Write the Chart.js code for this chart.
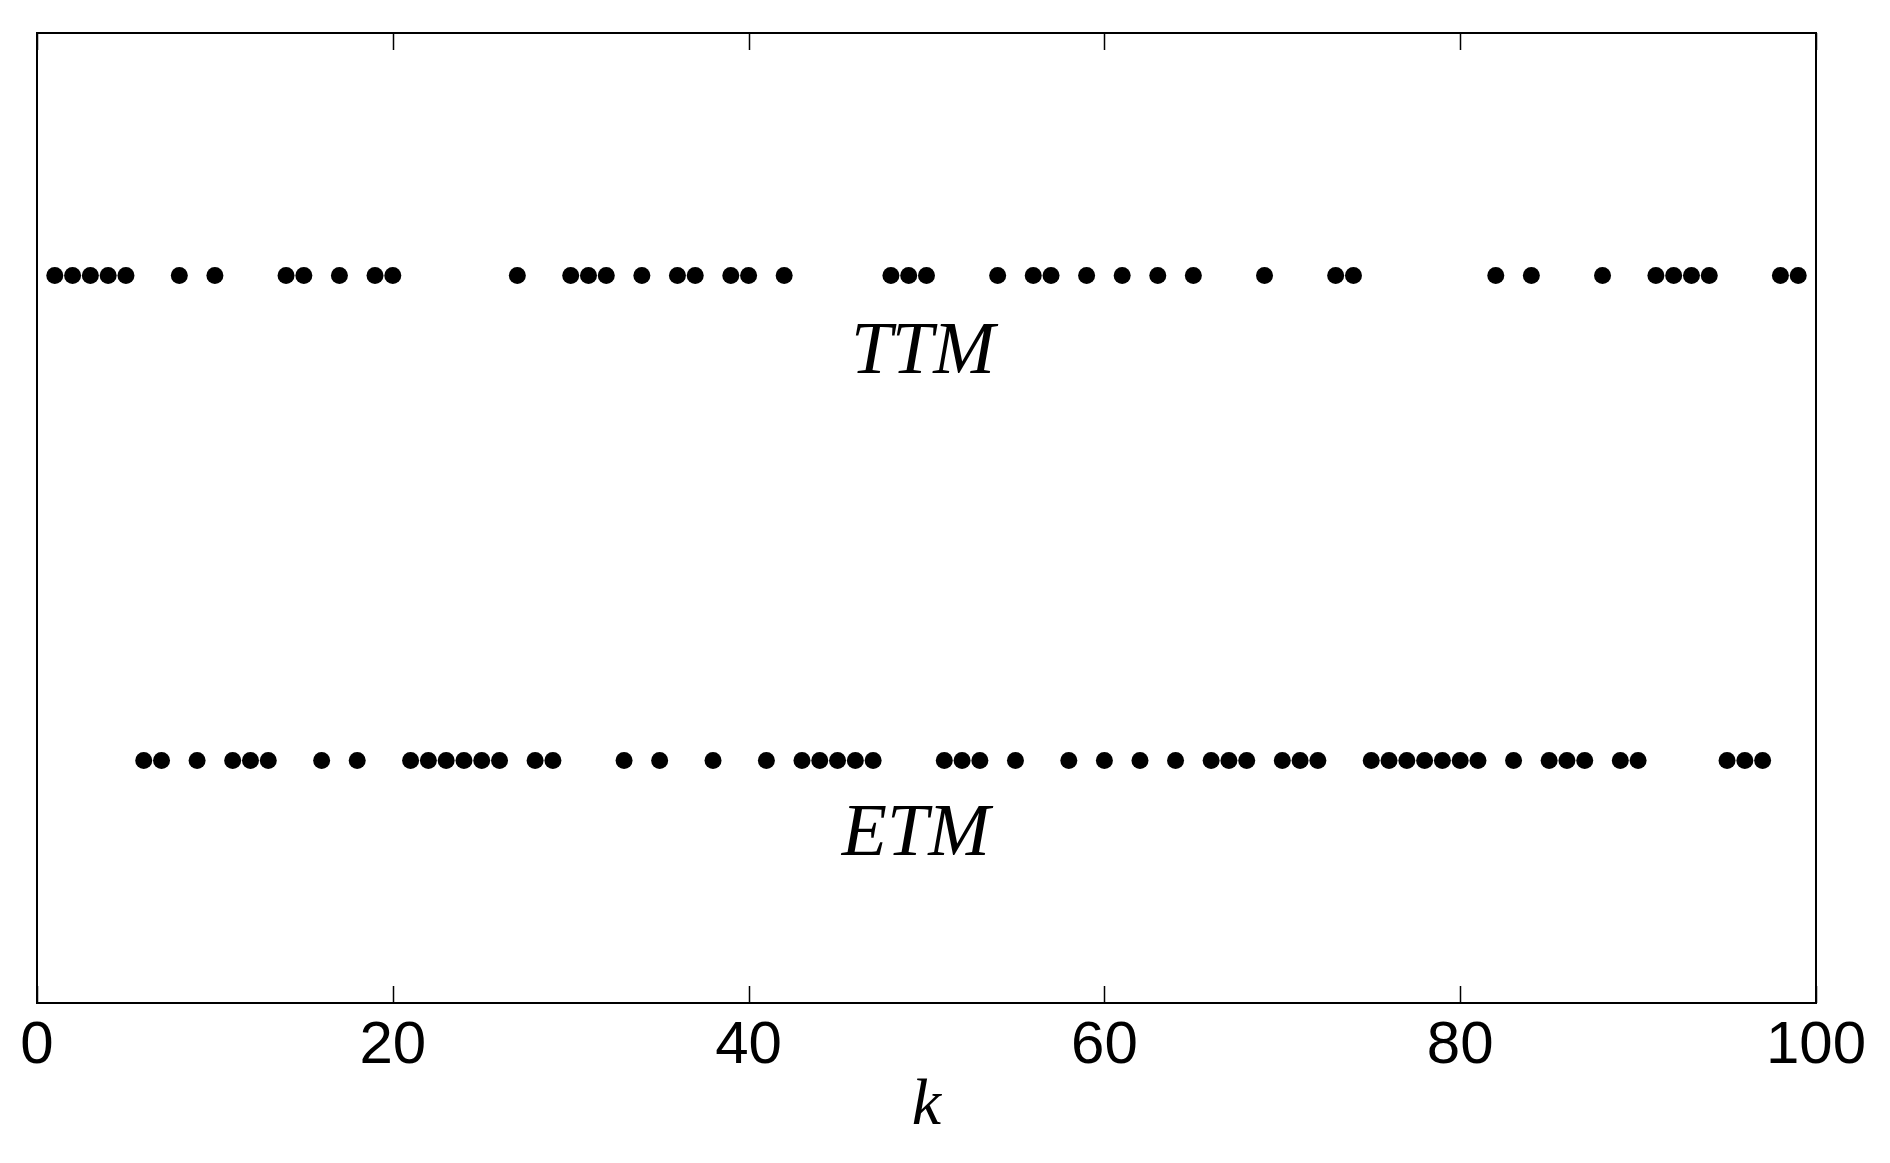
<!DOCTYPE html>
<html>
<head>
<meta charset="utf-8">
<script src="https://cdn.jsdelivr.net/npm/chart.js@4"></script>
<style>
  html, body { margin: 0; padding: 0; background: #fff; }
  #wrap { width: 1890px; height: 1163px; }
</style>
</head>
<body>
<div id="wrap"><canvas id="chart"></canvas></div>
<script>
// Instantes de disparo (k) para cada esquema
const ttmK = [1, 2, 3, 4, 5, 8, 10, 14, 15, 17, 19, 20, 27, 30, 31, 32, 34, 36, 37, 39, 40, 42,
              48, 49, 50, 54, 56, 57, 59, 61, 63, 65, 69, 73, 74, 82, 84, 88, 91, 92, 93, 94, 98, 99];
const etmK = [6, 7, 9, 11, 12, 13, 16, 18, 21, 22, 23, 24, 25, 26, 28, 29, 33, 35, 38, 41,
              43, 44, 45, 46, 47, 51, 52, 53, 55, 58, 60, 62, 64, 66, 67, 68, 70, 71, 72,
              75, 76, 77, 78, 79, 80, 81, 83, 85, 86, 87, 89, 90, 95, 96, 97];
const rowLevels = [3, 1];           // nível vertical de cada linha (TTM, ETM)
const rowNames = ['TTM', 'ETM'];
const xTicks = [0, 20, 40, 60, 80, 100];

function toPoints(ks, level) {
    return ks.map(k => ({ x: k, y: level }));
}

// Plugin: moldura, marcas internas e rótulos em itálico
const framePlugin = {
    id: 'frame',
    afterDraw(chart) {
        const ctx = chart.ctx;
        const a = chart.chartArea;
        const xs = chart.scales.x;
        const ys = chart.scales.y;
        ctx.save();
        ctx.strokeStyle = '#000';
        ctx.lineWidth = 2;
        ctx.strokeRect(a.left, a.top, a.right - a.left, a.bottom - a.top);

        // marcas para dentro, em cima e embaixo
        ctx.lineWidth = 1.5;
        xTicks.forEach(v => {
            const px = Math.round(xs.getPixelForValue(v)) + 0.5;
            ctx.beginPath();
            ctx.moveTo(px, a.bottom);
            ctx.lineTo(px, a.bottom - 17);
            ctx.moveTo(px, a.top);
            ctx.lineTo(px, a.top + 17);
            ctx.stroke();
        });

        // nomes das linhas
        ctx.fillStyle = '#000';
        ctx.font = 'italic 74px "Liberation Serif", "DejaVu Serif", serif';
        ctx.textAlign = 'center';
        ctx.textBaseline = 'alphabetic';
        const labelX = [49.8, 49.4];
        const labelDy = [97, 94];
        rowNames.forEach((name, i) => {
            ctx.fillText(name, xs.getPixelForValue(labelX[i]), ys.getPixelForValue(rowLevels[i]) + labelDy[i]);
        });

        // título do eixo x
        ctx.font = 'italic 66px "Liberation Serif", "DejaVu Serif", serif';
        ctx.fillText('k', (a.left + a.right) / 2, a.bottom + 121);
        ctx.restore();
    }
};

document.addEventListener('DOMContentLoaded', function() {
    const ctx = document.getElementById('chart').getContext('2d');
    new Chart(ctx, {
        type: 'scatter',
        data: {
            datasets: [{
                label: rowNames[0],
                data: toPoints(ttmK, rowLevels[0]),
                backgroundColor: '#000',
                borderWidth: 0,
                pointRadius: 8.5,
                pointHoverRadius: 8.5
            }, {
                label: rowNames[1],
                data: toPoints(etmK, rowLevels[1]),
                backgroundColor: '#000',
                borderWidth: 0,
                pointRadius: 8.5,
                pointHoverRadius: 8.5
            }]
        },
        options: {
            responsive: true,
            maintainAspectRatio: false,
            animation: false,
            layout: {
                padding: { left: 37, right: 74, top: 33, bottom: 74 }
            },
            plugins: {
                legend: { display: false },
                tooltip: { enabled: false }
            },
            scales: {
                x: {
                    type: 'linear',
                    min: 0,
                    max: 100,
                    grid: { display: false, drawTicks: false },
                    border: { display: false },
                    afterBuildTicks: axis => {
                        axis.ticks = xTicks.map(v => ({ value: v }));
                    },
                    ticks: {
                        padding: 13,
                        color: '#000',
                        maxRotation: 0,
                        font: { family: '"Liberation Sans", Arial, sans-serif', size: 60, lineHeight: 1 }
                    }
                },
                y: {
                    min: 0,
                    max: 4,
                    display: false
                }
            }
        },
        plugins: [framePlugin]
    });
});
</script>
</body>
</html>
